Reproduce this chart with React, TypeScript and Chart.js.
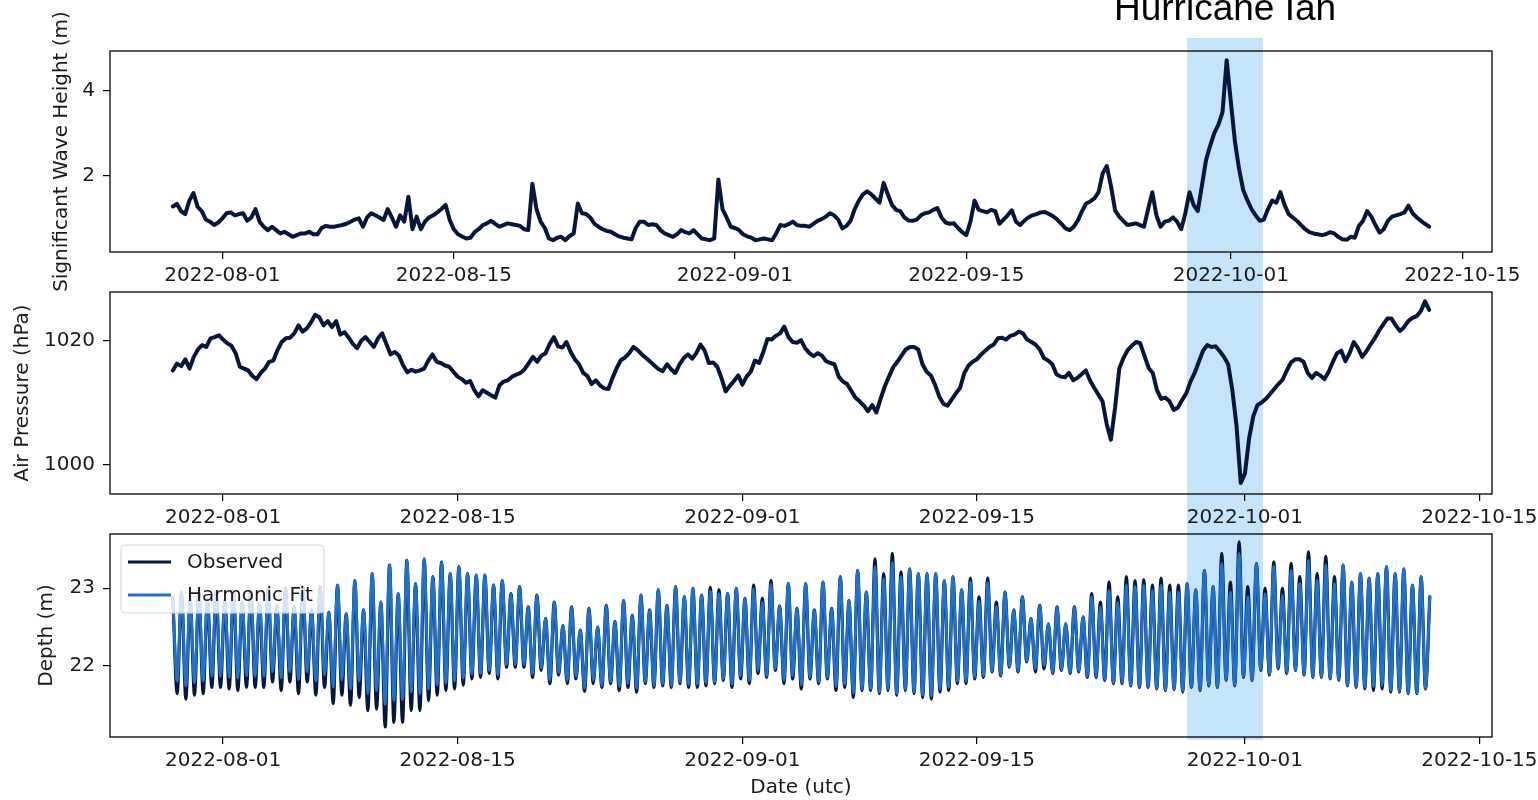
import { useEffect, useRef } from 'react';
import { Chart, registerables } from 'chart.js';

Chart.register(...registerables);

// All records start 2022-07-29 00:00 UTC
const SERIES_START = Date.UTC(2022, 6, 29);
const HOUR_MS = 3600 * 1000;

// Significant wave height (m), one value every 6 h (00, 06, 12, 18 UTC per row)
const WAVE_STEP_HOURS = 6;
const WAVE_HEIGHT = [
  1.26, 1.32, 1.15, 1.08, // Jul 29
  1.40, 1.58, 1.25, 1.15,
  0.95, 0.90, 0.82, 0.88,
  0.98, 1.10, 1.12, 1.05, // Aug 01
  1.08, 1.10, 0.92, 1.00,
  1.20, 0.90, 0.78, 0.70,
  0.78, 0.70, 0.62, 0.66,
  0.60, 0.54, 0.58, 0.62,
  0.62, 0.66, 0.60, 0.60,
  0.75, 0.80, 0.78, 0.78,
  0.80, 0.82, 0.85, 0.90,
  0.95, 0.98, 0.78, 1.00,
  1.10, 1.05, 1.00, 0.94,
  1.20, 1.00, 0.78, 1.05,
  0.90, 1.49, 0.72, 1.02,
  0.72, 0.90, 1.00, 1.05,
  1.12, 1.20, 1.30, 0.94,
  0.72, 0.60, 0.55, 0.50, // Aug 15
  0.52, 0.65, 0.72, 0.82,
  0.86, 0.92, 0.85, 0.78,
  0.82, 0.86, 0.84, 0.82,
  0.80, 0.72, 0.70, 1.80,
  1.20, 0.90, 0.75, 0.50,
  0.46, 0.52, 0.54, 0.46,
  0.56, 0.62, 1.33, 1.10,
  1.08, 1.00, 0.85, 0.78,
  0.72, 0.68, 0.66, 0.60,
  0.55, 0.52, 0.50, 0.48,
  0.75, 0.90, 0.90, 0.82,
  0.84, 0.82, 0.70, 0.62,
  0.58, 0.54, 0.60, 0.70,
  0.65, 0.62, 0.70, 0.60,
  0.50, 0.48, 0.46, 0.50,
  1.90, 1.20, 1.00, 0.78,
  0.75, 0.70, 0.60, 0.55, // Sep 01
  0.52, 0.46, 0.48, 0.50,
  0.48, 0.46, 0.62, 0.82,
  0.80, 0.84, 0.90, 0.82,
  0.80, 0.80, 0.78, 0.85,
  0.92, 0.96, 1.02, 1.10,
  1.05, 0.95, 0.74, 0.80,
  0.92, 1.20, 1.40, 1.55,
  1.62, 1.55, 1.45, 1.35,
  1.82, 1.55, 1.30, 1.18,
  1.15, 1.00, 0.93, 0.92,
  0.95, 1.05, 1.10, 1.12,
  1.18, 1.22, 1.00, 0.88,
  0.85, 0.86, 0.75, 0.65,
  0.58, 0.90, 1.40, 1.18, // Sep 15
  1.15, 1.12, 1.18, 1.15,
  0.85, 0.95, 1.05, 1.17,
  0.90, 0.82, 0.92, 1.00,
  1.05, 1.08, 1.12, 1.13,
  1.08, 1.03, 0.95, 0.85,
  0.74, 0.70, 0.78, 0.93,
  1.15, 1.33, 1.38, 1.45,
  1.60, 2.05, 2.22, 1.75,
  1.17, 1.02, 0.92, 0.82,
  0.84, 0.86, 0.82, 0.78,
  1.20, 1.60, 1.05, 0.78,
  0.90, 0.92, 1.00, 0.90,
  0.72, 1.10, 1.60, 1.30,
  1.15, 1.75, 2.36, 2.70,
  3.00, 3.20, 3.50, 4.73, // Sep 30
  3.75, 2.80, 2.15, 1.65, // Oct 01
  1.41, 1.20, 1.05, 0.92,
  0.95, 1.20, 1.40, 1.35,
  1.60, 1.30, 1.08, 1.00,
  0.92, 0.82, 0.72, 0.65,
  0.62, 0.60, 0.58, 0.60,
  0.65, 0.62, 0.54, 0.48,
  0.47, 0.54, 0.52, 0.80,
  0.92, 1.15, 1.02, 0.82,
  0.64, 0.72, 0.92, 1.02,
  1.05, 1.08, 1.12, 1.28,
  1.10, 1.00, 0.92, 0.85,
  0.78, // Oct 13
];

// Air pressure (hPa), one value every 6 h
const PRESSURE_STEP_HOURS = 6;
const AIR_PRESSURE = [
  1015.2, 1016.3, 1015.9, 1017.0, // Jul 29
  1015.5, 1017.4, 1018.6, 1019.3,
  1019.0, 1020.4, 1020.6, 1020.9,
  1020.2, 1019.6, 1019.2, 1018.0, // Aug 01
  1015.8, 1015.5, 1015.2, 1014.3,
  1013.8, 1014.8, 1015.5, 1016.6,
  1016.8, 1018.5, 1019.8, 1020.4,
  1020.5, 1021.2, 1022.5, 1021.5,
  1022.0, 1023.0, 1024.2, 1023.8,
  1022.5, 1023.2, 1022.2, 1023.2,
  1021.0, 1021.4, 1020.5, 1019.5,
  1018.8, 1020.0, 1020.6, 1019.8,
  1019.0, 1020.4, 1021.2, 1019.5,
  1017.8, 1018.2, 1017.6, 1016.0,
  1014.9, 1015.3, 1015.0, 1015.2,
  1015.5, 1016.8, 1017.8, 1016.6,
  1016.4, 1016.0, 1015.8, 1015.0,
  1014.2, 1013.8, 1013.2, 1013.5, // Aug 15
  1012.0, 1011.0, 1012.0, 1011.6,
  1011.2, 1010.8, 1012.8, 1013.4,
  1013.6, 1014.2, 1014.5, 1014.8,
  1015.4, 1016.4, 1017.4, 1016.6,
  1017.6, 1018.0, 1019.5, 1020.6,
  1019.1, 1018.9, 1019.8, 1018.2,
  1017.0, 1016.2, 1014.8, 1014.3,
  1013.0, 1013.6, 1012.8, 1012.3,
  1012.2, 1014.0, 1015.6, 1016.9,
  1017.3, 1018.0, 1019.0, 1018.5,
  1017.8, 1017.2, 1016.6, 1016.0,
  1015.4, 1015.1, 1016.2, 1015.4,
  1014.8, 1016.2, 1017.2, 1017.8,
  1017.1, 1018.0, 1019.4, 1018.4,
  1016.4, 1016.5, 1015.8, 1014.0,
  1011.8, 1012.7, 1013.5, 1014.4,
  1012.9, 1014.2, 1015.0, 1016.8, // Sep 01
  1016.4, 1018.2, 1020.3, 1020.2,
  1020.8, 1021.2, 1022.3, 1020.6,
  1019.8, 1019.7, 1020.1, 1018.8,
  1018.0, 1017.5, 1018.0, 1017.6,
  1016.7, 1016.4, 1016.2, 1014.2,
  1013.4, 1013.0, 1011.9, 1010.8,
  1010.2, 1009.5, 1008.6, 1009.6,
  1008.4, 1010.6, 1012.6, 1014.2,
  1015.7, 1016.6, 1017.6, 1018.6,
  1019.0, 1019.0, 1018.6, 1016.2,
  1015.0, 1014.4, 1012.9, 1011.0,
  1009.8, 1009.5, 1010.5, 1011.5,
  1012.4, 1014.8, 1016.0, 1016.6,
  1017.0, 1017.8, 1018.4, 1019.0, // Sep 15
  1019.4, 1020.4, 1020.5, 1020.2,
  1020.8, 1021.0, 1021.5, 1021.2,
  1020.2, 1019.8, 1019.4, 1018.6,
  1017.2, 1016.8, 1016.2, 1014.6,
  1014.2, 1014.1, 1014.8, 1013.6,
  1014.0, 1014.6, 1015.2, 1013.6,
  1012.4, 1011.3, 1010.2, 1006.5,
  1004.0, 1009.2, 1015.5, 1017.2,
  1018.5, 1019.2, 1019.8, 1019.6,
  1017.6, 1015.6, 1014.8, 1012.0,
  1010.6, 1010.8, 1010.2, 1008.8,
  1009.2, 1010.4, 1011.5, 1013.4,
  1014.8, 1016.6, 1018.4, 1019.3,
  1019.0, 1019.1, 1018.3, 1017.4,
  1016.2, 1012.0, 1006.2, 997.0, // Sep 30
  998.5, 1004.2, 1007.8, 1009.6, // Oct 01
  1010.0, 1010.6, 1011.4, 1012.2,
  1013.0, 1013.7, 1015.2, 1016.5,
  1017.0, 1017.0, 1016.6, 1014.8,
  1014.0, 1014.8, 1014.4, 1013.8,
  1015.0, 1016.6, 1018.0, 1018.4,
  1016.7, 1018.0, 1019.8, 1018.8,
  1017.4, 1018.3, 1019.4, 1020.4,
  1021.6, 1022.6, 1023.6, 1023.6,
  1022.5, 1021.6, 1022.2, 1023.2,
  1023.7, 1024.0, 1024.8, 1026.4,
  1025.0, // Oct 12
];

// Water depth (m): successive high / low waters, one every 6.21 h
const TIDE_STEP_HOURS = 6.21;
const DEPTH_OBSERVED = [
  22.88, 21.64, 22.95, 21.57, 22.85, 21.62, 22.95, 21.64, 22.86, 21.72,
  22.96, 21.72, 22.84, 21.70, 22.97, 21.68, 22.82, 21.72, 22.98, 21.72,
  22.80, 21.72, 23.00, 21.79, 22.78, 21.68, 23.00, 21.79, 22.76, 21.64,
  23.02, 21.79, 22.72, 21.62, 23.02, 21.72, 22.69, 21.51, 23.04, 21.62,
  22.67, 21.49, 23.10, 21.59, 22.72, 21.42, 23.19, 21.44, 22.82, 21.21,
  23.30, 21.27, 22.93, 21.27, 23.36, 21.42, 23.06, 21.42, 23.38, 21.55,
  23.15, 21.62, 23.34, 21.68, 23.19, 21.70, 23.28, 21.75, 23.19, 21.83,
  23.17, 21.85, 23.17, 21.90, 23.04, 21.83, 23.10, 21.98, 22.93, 21.98,
  23.02, 21.98, 22.76, 21.85, 22.91, 21.94, 22.61, 21.77, 22.82, 21.88,
  22.52, 21.77, 22.76, 21.83, 22.46, 21.67, 22.74, 21.77, 22.50, 21.72,
  22.78, 21.77, 22.57, 21.68, 22.84, 21.72, 22.65, 21.66, 22.91, 21.77,
  22.72, 21.72, 22.98, 21.74, 22.78, 21.72, 23.02, 21.77, 22.89, 21.72,
  23.00, 21.72, 22.91, 21.74, 23.01, 21.77, 22.98, 21.81, 22.93, 21.72,
  23.00, 21.83, 22.87, 21.77, 23.04, 21.90, 22.87, 21.85, 23.10, 21.94,
  22.77, 21.77, 23.06, 21.83, 22.74, 21.70, 23.06, 21.83, 22.72, 21.77,
  23.08, 21.83, 22.74, 21.68, 23.15, 21.72, 22.84, 21.59, 23.23, 21.68,
  22.95, 21.68, 23.38, 21.64, 23.19, 21.68, 23.45, 21.62, 23.21, 21.68,
  23.25, 21.64, 23.19, 21.59, 23.19, 21.57, 23.19, 21.66, 23.10, 21.68,
  23.15, 21.77, 22.98, 21.77, 23.13, 21.83, 22.89, 21.85, 23.13, 21.92,
  22.82, 21.87, 22.95, 21.98, 22.72, 21.92, 22.89, 22.05, 22.61, 21.92,
  22.78, 21.96, 22.54, 21.90, 22.76, 21.94, 22.54, 21.90, 22.76, 21.92,
  22.63, 21.85, 22.93, 21.85, 22.82, 21.81, 23.08, 21.77, 22.89, 21.77,
  23.15, 21.74, 23.10, 21.72, 23.11, 21.72, 23.04, 21.70, 23.13, 21.68,
  23.04, 21.69, 23.04, 21.66, 23.06, 21.72, 22.98, 21.68, 23.23, 21.74,
  23.02, 21.72, 23.45, 21.81, 23.08, 21.74, 23.60, 21.85, 23.02, 21.81,
  23.32, 21.94, 23.00, 21.88, 23.34, 21.96, 23.00, 21.90, 23.32, 21.94,
  23.15, 21.88, 23.47, 21.85, 23.19, 21.85, 23.41, 21.83, 23.15, 21.81,
  23.30, 21.74, 23.08, 21.72, 23.19, 21.70, 23.13, 21.68, 23.19, 21.70,
  23.28, 21.66, 23.19, 21.66, 23.25, 21.64, 23.04, 21.64, 23.15, 21.70,
  22.89,
];
const DEPTH_FIT = [
  22.88, 21.80, 22.95, 21.74, 22.85, 21.78, 22.95, 21.80, 22.86, 21.86,
  22.96, 21.86, 22.84, 21.85, 22.97, 21.84, 22.82, 21.87, 22.98, 21.86,
  22.80, 21.86, 23.00, 21.92, 22.78, 21.84, 23.00, 21.92, 22.76, 21.82,
  23.02, 21.92, 22.72, 21.80, 23.02, 21.88, 22.69, 21.72, 23.04, 21.82,
  22.67, 21.70, 23.10, 21.80, 22.72, 21.64, 23.19, 21.68, 22.82, 21.50,
  23.30, 21.55, 22.93, 21.56, 23.36, 21.66, 23.06, 21.64, 23.38, 21.70,
  23.15, 21.75, 23.34, 21.78, 23.19, 21.80, 23.28, 21.84, 23.19, 21.89,
  23.17, 21.90, 23.17, 21.94, 23.04, 21.88, 23.10, 22.01, 22.93, 22.01,
  23.02, 22.01, 22.76, 21.89, 22.91, 21.97, 22.61, 21.81, 22.82, 21.91,
  22.52, 21.81, 22.76, 21.86, 22.46, 21.71, 22.74, 21.81, 22.50, 21.74,
  22.78, 21.79, 22.57, 21.73, 22.84, 21.77, 22.65, 21.71, 22.91, 21.79,
  22.72, 21.74, 22.98, 21.76, 22.78, 21.74, 23.02, 21.79, 22.89, 21.76,
  23.00, 21.76, 22.91, 21.78, 22.96, 21.79, 22.93, 21.83, 22.93, 21.76,
  23.00, 21.87, 22.87, 21.81, 22.99, 21.94, 22.82, 21.87, 23.05, 21.96,
  22.77, 21.81, 23.06, 21.87, 22.74, 21.75, 23.06, 21.85, 22.72, 21.79,
  23.08, 21.85, 22.74, 21.73, 23.15, 21.76, 22.84, 21.65, 23.23, 21.70,
  22.95, 21.70, 23.28, 21.66, 23.12, 21.70, 23.33, 21.64, 23.15, 21.70,
  23.25, 21.66, 23.19, 21.62, 23.19, 21.61, 23.19, 21.70, 23.10, 21.72,
  23.15, 21.80, 22.98, 21.80, 23.08, 21.85, 22.84, 21.87, 23.07, 21.93,
  22.77, 21.88, 22.95, 21.99, 22.72, 21.93, 22.89, 22.06, 22.61, 21.96,
  22.78, 22.00, 22.54, 21.91, 22.76, 21.95, 22.54, 21.91, 22.76, 21.93,
  22.63, 21.86, 22.89, 21.86, 22.76, 21.82, 22.97, 21.78, 22.82, 21.78,
  23.04, 21.75, 23.02, 21.73, 23.04, 21.73, 22.97, 21.71, 23.04, 21.69,
  22.95, 21.70, 22.95, 21.67, 23.06, 21.73, 22.98, 21.69, 23.23, 21.75,
  23.02, 21.73, 23.32, 21.82, 22.95, 21.75, 23.45, 21.86, 22.89, 21.82,
  23.32, 21.95, 22.93, 21.89, 23.28, 21.97, 22.91, 21.91, 23.23, 21.95,
  23.06, 21.89, 23.36, 21.86, 23.10, 21.86, 23.30, 21.84, 23.06, 21.82,
  23.30, 21.75, 23.08, 21.73, 23.19, 21.72, 23.13, 21.73, 23.19, 21.75,
  23.28, 21.68, 23.19, 21.67, 23.25, 21.65, 23.04, 21.65, 23.15, 21.71,
  22.89,
];

// Axis ticks
const DATE_TICKS = ['2022-08-01', '2022-08-15', '2022-09-01', '2022-09-15', '2022-10-01', '2022-10-15'];
const WAVE_TICKS = [2, 4];
const PRESSURE_TICKS = [1000, 1020];
const DEPTH_TICKS = [22, 23];

// Storm window
const STORM_NAME = 'Hurricane Ian';
const STORM_START = '2022-09-27T13:00:00Z';
const STORM_END = '2022-10-02T02:00:00Z';

// Styling
const W = 1538;
const H = 800;
const FONT = 'DejaVu Sans';
const TEXT = '#1a1a1a';
const NAVY = '#06163d';
const FIT_BLUE = '#1f72cc';
const BAND = '#c5e3f9';

function toPoints(values: number[], stepHours: number) {
  return values.map((y, i) => ({ x: SERIES_START + i * stepHours * HOUR_MS, y }));
}

function dateLabel(v: number) {
  return new Date(v).toISOString().slice(0, 10);
}

// Full box around each plotting area
const framePlugin = {
  id: 'frame',
  afterDatasetsDraw(chart: any) {
    const { ctx, chartArea: a } = chart;
    ctx.save();
    ctx.strokeStyle = '#000';
    ctx.lineWidth = 1.3;
    ctx.strokeRect(a.left, a.top, a.right - a.left, a.bottom - a.top);
    ctx.restore();
  },
};

// Shaded storm window spanning all three panels, with its caption
const stormPlugin = {
  id: 'storm',
  beforeDraw(chart: any) {
    const { ctx } = chart;
    const x = chart.scales.x;
    const x0 = x.getPixelForValue(Date.parse(STORM_START));
    const x1 = x.getPixelForValue(Date.parse(STORM_END));
    ctx.save();
    ctx.fillStyle = BAND;
    ctx.fillRect(x0, 38, x1 - x0, 740 - 38);
    ctx.fillStyle = '#000';
    ctx.font = '37px "Liberation Sans", Arial, sans-serif';
    ctx.textAlign = 'center';
    ctx.textBaseline = 'alphabetic';
    ctx.fillText(STORM_NAME, (x0 + x1) / 2, 20);
    ctx.restore();
  },
};

// Framed legend in the upper-left corner of the depth panel
const boxLegendPlugin = {
  id: 'boxLegend',
  afterDatasetsDraw(chart: any) {
    const { ctx, chartArea: a } = chart;
    const bx = a.left + 11;
    const by = a.top + 11;
    ctx.save();
    ctx.beginPath();
    ctx.roundRect(bx, by, 203, 68, 4);
    ctx.fillStyle = 'rgba(255,255,255,0.8)';
    ctx.fill();
    ctx.strokeStyle = '#d4d4d4';
    ctx.lineWidth = 1;
    ctx.stroke();
    chart.data.datasets.forEach((ds: any, i: number) => {
      const yy = by + 17 + i * 33;
      ctx.beginPath();
      ctx.moveTo(bx + 7, yy);
      ctx.lineTo(bx + 50, yy);
      ctx.strokeStyle = ds.borderColor;
      ctx.lineWidth = ds.borderWidth;
      ctx.stroke();
      ctx.fillStyle = TEXT;
      ctx.font = `20px "${FONT}"`;
      ctx.textAlign = 'left';
      ctx.textBaseline = 'middle';
      ctx.fillText(ds.label, bx + 66, yy + 1);
    });
    ctx.restore();
  },
};

type Panel = {
  xMin: number;
  xMax: number;
  yMin: number;
  yMax: number;
  yTicks: number[];
  yTitle: string;
  yTitleOffset: number;
  top: number;
  bottom: number;
  xTitle?: string;
};

function panelOptions(p: Panel): any {
  const xAxisHeight = p.xTitle ? H - p.bottom : 40;
  const tickFont = { family: FONT, size: 20 };
  const grid = { drawOnChartArea: false, drawTicks: true, tickLength: 7, color: '#000', lineWidth: 1.2 };
  return {
    responsive: false,
    maintainAspectRatio: false,
    animation: false,
    events: [],
    layout: { padding: { top: p.top, left: 0, right: W - 1492, bottom: H - p.bottom - xAxisHeight } },
    plugins: { legend: { display: false }, tooltip: { enabled: false }, title: { display: false } },
    elements: { point: { radius: 0 }, line: { borderJoinStyle: 'round', borderCapStyle: 'round' } },
    scales: {
      x: {
        type: 'linear',
        min: p.xMin,
        max: p.xMax,
        afterBuildTicks: (axis: any) => {
          axis.ticks = DATE_TICKS.map((d) => ({ value: Date.parse(d) }));
        },
        afterFit: (axis: any) => {
          axis.height = xAxisHeight;
          // keep the plotting box fixed; the last date label may run into the margin
          axis.paddingLeft = 0;
          axis.paddingRight = 0;
        },
        ticks: {
          callback: (v: any) => dateLabel(Number(v)),
          autoSkip: false,
          maxRotation: 0,
          minRotation: 0,
          padding: 5,
          color: TEXT,
          font: tickFont,
        },
        grid,
        border: { display: false },
        title: p.xTitle
          ? { display: true, text: p.xTitle, color: TEXT, font: tickFont, padding: { top: 0, bottom: 0 } }
          : { display: false },
      },
      y: {
        type: 'linear',
        min: p.yMin,
        max: p.yMax,
        afterBuildTicks: (axis: any) => {
          axis.ticks = p.yTicks.map((v) => ({ value: v }));
        },
        afterFit: (axis: any) => {
          axis.width = 110;
        },
        ticks: { callback: (v: any) => String(v), padding: 8, color: TEXT, font: tickFont },
        grid,
        border: { display: false },
        title: {
          display: true,
          text: p.yTitle,
          color: TEXT,
          font: tickFont,
          padding: { top: p.yTitleOffset, bottom: 0 },
        },
      },
    },
  };
}

// Wave panel carries a slightly longer record, so its date axis is a little wider
const WAVE_X_MIN = Date.UTC(2022, 6, 25, 4, 48);
const WAVE_X_MAX = Date.UTC(2022, 9, 16, 19, 12);
const TIDE_X_MIN = Date.UTC(2022, 6, 25, 6, 0);
const TIDE_X_MAX = Date.UTC(2022, 9, 15, 18, 0);

export default function App() {
  const waveRef = useRef<HTMLCanvasElement>(null);
  const pressureRef = useRef<HTMLCanvasElement>(null);
  const depthRef = useRef<HTMLCanvasElement>(null);

  useEffect(() => {
    const depth = new Chart(depthRef.current as HTMLCanvasElement, {
      type: 'line',
      data: {
        datasets: [
          {
            label: 'Observed',
            data: toPoints(DEPTH_OBSERVED, TIDE_STEP_HOURS),
            borderColor: NAVY,
            borderWidth: 3.2,
            cubicInterpolationMode: 'monotone',
            order: 2,
          },
          {
            label: 'Harmonic Fit',
            data: toPoints(DEPTH_FIT, TIDE_STEP_HOURS),
            borderColor: FIT_BLUE,
            borderWidth: 2.8,
            cubicInterpolationMode: 'monotone',
            order: 1,
          },
        ],
      } as any,
      options: panelOptions({
        xMin: TIDE_X_MIN,
        xMax: TIDE_X_MAX,
        yMin: 21.08,
        yMax: 23.7,
        yTicks: DEPTH_TICKS,
        yTitle: 'Depth (m)',
        yTitleOffset: 35,
        top: 534,
        bottom: 737,
        xTitle: 'Date (utc)',
      }),
      plugins: [stormPlugin, boxLegendPlugin, framePlugin],
    });

    const pressure = new Chart(pressureRef.current as HTMLCanvasElement, {
      type: 'line',
      data: {
        datasets: [
          {
            label: 'Air Pressure',
            data: toPoints(AIR_PRESSURE, PRESSURE_STEP_HOURS),
            borderColor: NAVY,
            borderWidth: 4,
            tension: 0,
          },
        ],
      } as any,
      options: panelOptions({
        xMin: TIDE_X_MIN,
        xMax: TIDE_X_MAX,
        yMin: 995.2,
        yMax: 1027.9,
        yTicks: PRESSURE_TICKS,
        yTitle: 'Air Pressure (hPa)',
        yTitleOffset: 11,
        top: 292,
        bottom: 494,
      }),
      plugins: [framePlugin],
    });

    const wave = new Chart(waveRef.current as HTMLCanvasElement, {
      type: 'line',
      data: {
        datasets: [
          {
            label: 'Significant Wave Height',
            data: toPoints(WAVE_HEIGHT, WAVE_STEP_HOURS),
            borderColor: NAVY,
            borderWidth: 4,
            tension: 0,
          },
        ],
      } as any,
      options: panelOptions({
        xMin: WAVE_X_MIN,
        xMax: WAVE_X_MAX,
        yMin: 0.18,
        yMax: 4.95,
        yTicks: WAVE_TICKS,
        yTitle: 'Significant Wave Height (m)',
        yTitleOffset: 50,
        top: 51,
        bottom: 252,
      }),
      plugins: [framePlugin],
    });

    return () => {
      wave.destroy();
      pressure.destroy();
      depth.destroy();
    };
  }, []);

  const layer: any = { position: 'absolute', left: 0, top: 0, width: W, height: H };
  return (
    <div style={{ position: 'fixed', left: 0, top: 0, width: W, height: H, background: '#fff', overflow: 'hidden' }}>
      <canvas ref={depthRef} width={W} height={H} style={layer} />
      <canvas ref={pressureRef} width={W} height={H} style={layer} />
      <canvas ref={waveRef} width={W} height={H} style={layer} />
    </div>
  );
}
